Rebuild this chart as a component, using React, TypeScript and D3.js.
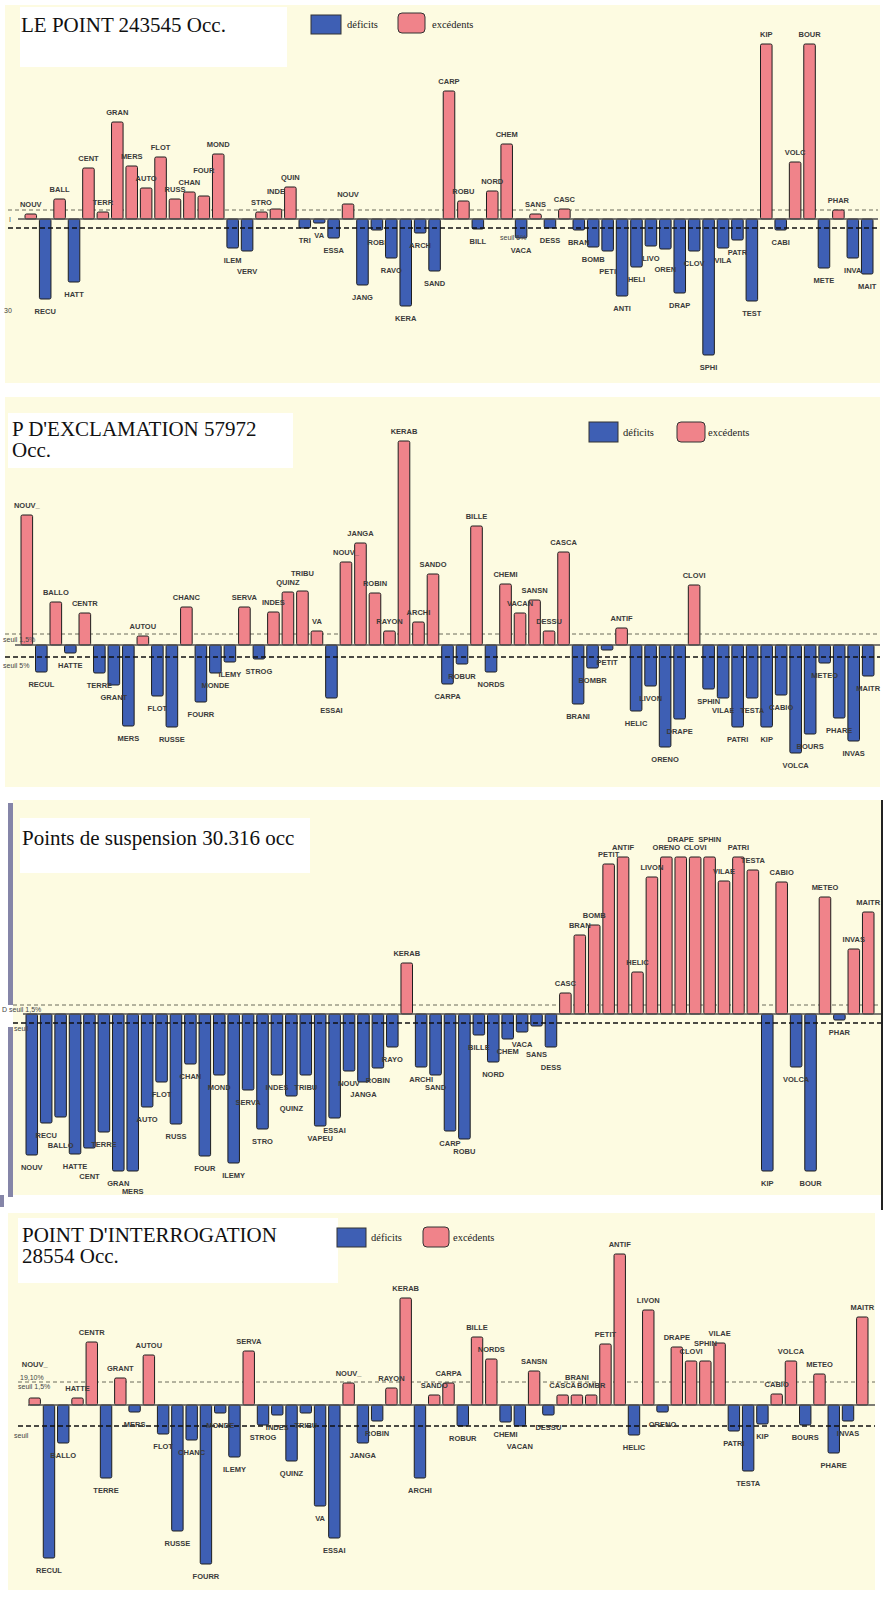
import React from 'react';
import * as d3 from 'd3';

// ---------- DATA ----------
const labels1 = ['NOUV','RECU','BALL','HATT','CENT','TERR','GRAN','MERS','AUTO','FLOT','RUSS','CHAN','FOUR','MOND','ILEM','VERV','STRO','INDE','QUIN','TRI','VA','ESSA','NOUV','JANG','ROBI','RAVO','KERA','ARCH','SAND','CARP','ROBU','BILL','NORD','CHEM','VACA','SANS','DESS','CASC','BRAN','BOMB','PETI','ANTI','HELI','LIVO','OREN','DRAP','CLOV','SPHI','VILA','PATR','TEST','KIP','CABI','VOLC','BOUR','METE','PHAR','INVA','MAIT'];
const values1 = [5,-80,20,-63,51,7,97,53,31,62,20,27,23,65,-29,-32,7,10,32,-9,-4,-19,15,-66,-11,-39,-87,-14,-52,128,18,-10,28,75,-19,5,-9,10,-11,-28,-32,-77,-48,-27,-30,-74,-32,-136,-29,-21,-82,175,-11,57,175,-49,9,-39,-55];

const labels2 = ['NOUV_','RECUL','BALLO','HATTE','CENTR','TERRE','GRANT','MERS','AUTOU','FLOT','RUSSE','CHANC','FOURR','MONDE','ILEMY','SERVA','STROG','INDES','QUINZ','TRIBU','VA','ESSAI','NOUV_','JANGA','ROBIN','RAYON','KERAB','ARCHI','SANDO','CARPA','ROBUR','BILLE','NORDS','CHEMI','VACAN','SANSN','DESSU','CASCA','BRANI','BOMBR','PETIT','ANTIF','HELIC','LIVON','ORENO','DRAPE','CLOVI','SPHIN','VILAE','PATRI','TESTA','KIP','CABIO','VOLCA','BOURS','METEO','PHARE','INVAS','MAITR'];
const values2 = [130,-27,43,-8,32,-28,-40,-81,9,-51,-82,38,-57,-28,-17,38,-14,33,53,54,14,-53,83,102,52,14,204,23,71,-39,-19,119,-27,61,32,45,14,93,-59,-23,-5,17,-66,-41,-102,-74,60,-44,-53,-82,-53,-82,-50,-108,-89,-18,-73,-96,-31];

const labels3 = ['NOUV','RECU','BALLO','HATTE','CENT','TERRE','GRAN','MERS','AUTO','FLOT','RUSS','CHAN','FOUR','MOND','ILEMY','SERVA','STRO','INDES','QUINZ','TRIBU','VAPEU','ESSAI','NOUV','JANGA','ROBIN','RAYO','KERAB','ARCHI','SAND','CARP','ROBU','BILLE','NORD','CHEM','VACA','SANS','DESS','CASC','BRAN','BOMB','PETIT','ANTIF','HELIC','LIVON','ORENO','DRAPE','CLOVI','SPHIN','VILAE','PATRI','TESTA','KIP','CABIO','VOLCA','BOUR','METEO','PHAR','INVAS','MAITR'];
const values3 = [-141,-109,-103,-140,-134,-118,-157,-157,-93,-68,-110,-50,-142,-61,-149,-76,-115,-61,-82,-61,-112,-104,-57,-68,-54,-33,51,-53,-61,-117,-125,-21,-48,-25,-18,-12,-33,21,79,89,150,157,42,137,157,157,157,157,133,157,144,-157,132,-53,-157,117,-6,65,102];

const labels4 = ['NOUV_','RECUL','BALLO','HATTE','CENTR','TERRE','GRANT','MERS','AUTOU','FLOT','RUSSE','CHANC','FOURR','MONDE','ILEMY','SERVA','STROG','INDES','QUINZ','TRIBU','VA','ESSAI','NOUV_','JANGA','ROBIN','RAYON','KERAB','ARCHI','SANDO','CARPA','ROBUR','BILLE','NORDS','CHEMI','VACAN','SANSN','DESSU','CASCA','BRANI','BOMBR','PETIT','ANTIF','HELIC','LIVON','ORENO','DRAPE','CLOVI','SPHIN','VILAE','PATRI','TESTA','KIP','CABIO','VOLCA','BOURS','METEO','PHARE','INVAS','MAITR'];
const values4 = [7,-153,-38,7,63,-73,27,-7,50,-29,-126,-35,-159,-8,-52,54,-20,-10,-56,-8,-101,-133,22,-38,-16,17,107,-73,10,22,-21,68,46,-17,-21,34,-10,10,10,10,61,151,-30,95,-7,58,44,44,62,-26,-66,-19,11,44,-20,31,-48,-16,88];

const titles1 = ['LE POINT 243545 Occ.'];
const titles2 = ["P D'EXCLAMATION 57972", 'Occ.'];
const titles3 = ['Points de suspension 30.316 occ'];
const titles4 = ["POINT D'INTERROGATION", '28554 Occ.'];
const legendLabels = ['déficits', 'excédents'];

// ---------- STYLE ----------
const BG = '#FDFBE1';
const PINK = '#F0838A';
const BLUE = '#3E5FB4';
const LABEL_FONT = '"Liberation Sans", Arial, sans-serif';
const TITLE_FONT = '"Liberation Serif", "Times New Roman", serif';
const LABEL_SIZE = 7.5;
const CHAR_W = 5.0;

type Box = { x0: number; x1: number; y0: number; y1: number };
type Layout = {
  bg: [number, number, number, number];
  zero: number; upper: number; lower: number;
  lineX: [number, number];
  barX: [number, number];
  titleBox: [number, number, number, number];
  titleX: number; titleY: number; titleGap: number;
  legend?: { blue: [number, number, number, number]; pink: [number, number, number, number]; t1: number; t2: number; ty: number };
  notes: { x: number; y: number; t: string }[];
};

const hit = (a: Box, b: Box) => a.x0 < b.x1 && b.x0 < a.x1 && a.y0 < b.y1 && b.y0 < a.y1;

function Panel({ labels, values, titles, L }: { labels: string[]; values: number[]; titles: string[]; L: Layout }) {
  const x = d3.scaleBand<number>()
    .domain(d3.range(labels.length))
    .range(L.barX)
    .paddingInner(0.2)
    .paddingOuter(0);
  const y = d3.scaleLinear().domain([0, 100]).range([L.zero, L.zero - 100]);
  const bw = x.bandwidth();

  // label placement with simple collision avoidance
  const placed: Box[] = L.notes.map(n => ({ x0: n.x, x1: n.x + n.t.length * 4.2, y0: n.y - 6, y1: n.y + 1 }));
  const labelPos = values.map((v, i) => {
    const cx = (x(i) as number) + bw / 2;
    const w = labels[i].length * CHAR_W;
    let ly = v >= 0 ? y(v) - 7 : y(v) + 15;
    const dir = v >= 0 ? -1 : 1;
    let box: Box = { x0: cx - w / 2, x1: cx + w / 2, y0: ly - 6, y1: ly + 1 };
    for (let k = 0; k < 6 && placed.some(p => hit(p, box)); k++) {
      ly += dir * 8;
      box = { x0: cx - w / 2, x1: cx + w / 2, y0: ly - 6, y1: ly + 1 };
    }
    placed.push(box);
    return { cx, ly };
  });

  return (
    <g>
      <rect x={L.bg[0]} y={L.bg[1]} width={L.bg[2]} height={L.bg[3]} fill={BG} />
      <rect x={L.titleBox[0]} y={L.titleBox[1]} width={L.titleBox[2]} height={L.titleBox[3]} fill="#ffffff" />
      {titles.map((t, i) => (
        <text key={i} x={L.titleX} y={L.titleY + i * L.titleGap} fontFamily={TITLE_FONT} fontSize={21} fill="#111">{t}</text>
      ))}
      {L.legend && (
        <g>
          <rect x={L.legend.blue[0]} y={L.legend.blue[1]} width={L.legend.blue[2]} height={L.legend.blue[3]} fill={BLUE} stroke="#333" strokeWidth={1} />
          <text x={L.legend.t1} y={L.legend.ty} fontFamily={TITLE_FONT} fontSize={10.5} fill="#222">{legendLabels[0]}</text>
          <rect x={L.legend.pink[0]} y={L.legend.pink[1]} width={L.legend.pink[2]} height={L.legend.pink[3]} rx={4} fill={PINK} stroke="#333" strokeWidth={1} />
          <text x={L.legend.t2} y={L.legend.ty} fontFamily={TITLE_FONT} fontSize={10.5} fill="#222">{legendLabels[1]}</text>
        </g>
      )}
      <line x1={L.lineX[0]} x2={L.lineX[1]} y1={L.upper} y2={L.upper} stroke="#6a6a5a" strokeWidth={1} strokeDasharray="4,3" />
      {values.map((v, i) => {
        const top = Math.min(y(v), y(0));
        const h = Math.abs(y(v) - y(0));
        return (
          <rect key={i} x={x(i)} y={top} width={bw} height={Math.max(h, 1)}
            rx={1.5} fill={v >= 0 ? PINK : BLUE} stroke="#1e1e1e" strokeWidth={1} />
        );
      })}
      <line x1={L.lineX[0] + 10} x2={L.lineX[1]} y1={L.zero} y2={L.zero} stroke="#505050" strokeWidth={1.5} />
      <line x1={L.lineX[0]} x2={L.lineX[1]} y1={L.lower} y2={L.lower} stroke="#111" strokeWidth={1.5} strokeDasharray="5,3" />
      {values.map((v, i) => (
        <text key={'l' + i} x={labelPos[i].cx} y={labelPos[i].ly}
          textAnchor="middle" fontFamily={LABEL_FONT} fontSize={LABEL_SIZE} fontWeight="bold" fill="#3a3a3a">{labels[i]}</text>
      ))}
      {L.notes.map((n, i) => (
        <text key={'n' + i} x={n.x} y={n.y} fontFamily={LABEL_FONT} fontSize={7} fill="#444">{n.t}</text>
      ))}
    </g>
  );
}

const L1: Layout = {
  bg: [5, 5, 875, 378], zero: 219, upper: 210, lower: 228, lineX: [8, 878], barX: [25, 873],
  titleBox: [20, 7, 267, 60], titleX: 21, titleY: 32, titleGap: 21,
  legend: { blue: [311, 15, 30, 19], pink: [398, 13, 27, 20], t1: 347, t2: 432, ty: 28 },
  notes: [{ x: 9, y: 222, t: 'I' }, { x: 4, y: 313, t: '30' }, { x: 500, y: 240, t: 'seuil 5%' }],
};
const L2: Layout = {
  bg: [5, 397, 875, 390], zero: 645, upper: 634, lower: 657, lineX: [5, 880], barX: [21, 874],
  titleBox: [8, 413, 285, 55], titleX: 12, titleY: 436, titleGap: 21,
  legend: { blue: [589, 422, 29, 20], pink: [677, 422, 28, 20], t1: 623, t2: 708, ty: 436 },
  notes: [{ x: 3, y: 642, t: 'seuil 1,5%' }, { x: 3, y: 668, t: 'seuil 5%' }],
};
const L3: Layout = {
  bg: [13, 800, 868, 395], zero: 1014, upper: 1005, lower: 1023, lineX: [13, 881], barX: [26, 874],
  titleBox: [20, 818, 290, 55], titleX: 22, titleY: 845, titleGap: 21,
  notes: [{ x: 2, y: 1012, t: 'D seuil 1,5%' }, { x: 14, y: 1031, t: 'seuil' }],
};
const L4: Layout = {
  bg: [8, 1213, 867, 377], zero: 1405, upper: 1382, lower: 1426, lineX: [18, 875], barX: [29, 868],
  titleBox: [18, 1218, 320, 65], titleX: 22, titleY: 1242, titleGap: 21,
  legend: { blue: [337, 1228, 29, 19], pink: [423, 1227, 26, 20], t1: 371, t2: 453, ty: 1241 },
  notes: [{ x: 20, y: 1380, t: '19,10%' }, { x: 18, y: 1389, t: 'seuil 1,5%' }, { x: 14, y: 1438, t: 'seuil' }],
};

export default function App() {
  return (
    <svg width={883} height={1600} style={{ position: 'absolute', left: 0, top: 0, background: '#fff' }}>
      <rect x={0} y={0} width={883} height={1600} fill="#ffffff" />
      <Panel labels={labels1} values={values1} titles={titles1} L={L1} />
      <Panel labels={labels2} values={values2} titles={titles2} L={L2} />
      <Panel labels={labels3} values={values3} titles={titles3} L={L3} />
      <Panel labels={labels4} values={values4} titles={titles4} L={L4} />
      {/* panel 3 frame */}
      <rect x={8} y={803} width={5} height={202} fill="#8585A8" />
      <rect x={8} y={1027} width={5} height={170} fill="#8585A8" />
      <rect x={881} y={800} width={2} height={410} fill="#222" />
      <rect x={0} y={1195} width={4} height={12} fill="#8585A8" />
    </svg>
  );
}
